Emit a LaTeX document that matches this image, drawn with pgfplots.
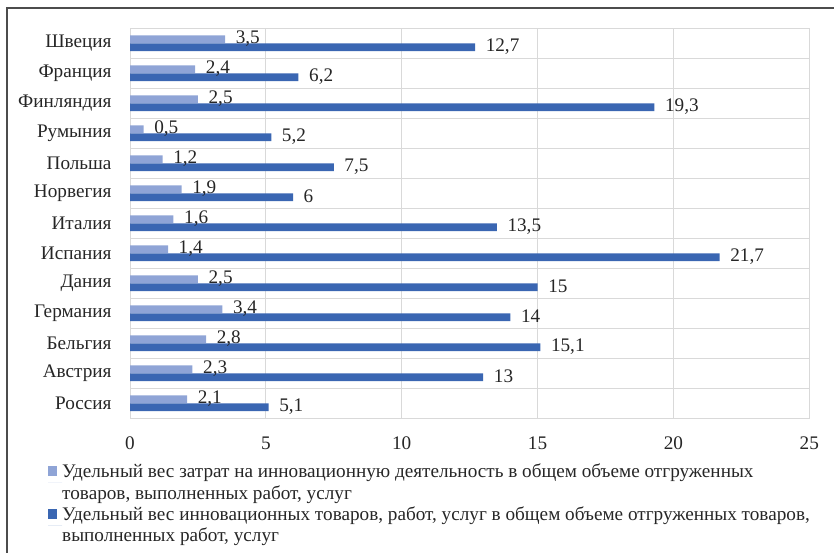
\documentclass[border=0pt]{standalone}
\usepackage{pgfplots}
\pgfplotsset{compat=1.18}
\usepackage{fontspec}
\setmainfont{Liberation Serif}
\definecolor{lightbar}{RGB}{143,164,214}
\definecolor{darkbar}{RGB}{58,102,178}
\definecolor{gridc}{RGB}{217,217,217}
\definecolor{txt}{RGB}{38,38,38}
\begin{document}
\fontsize{19.2pt}{21.7pt}\selectfont
\begin{tikzpicture}
\begin{axis}[
  at={(130pt,133.7pt)}, anchor=south west,
  scale only axis, width=679.3pt, height=390pt,
  xbar, bar width=7.8pt,
  xmin=0, xmax=25, ymin=-0.5, ymax=12.5,
  xtick={0,5,...,25},
  ytick={0,...,12},
  yticklabels={Россия,Австрия,Бельгия,Германия,Дания,Испания,Италия,Норвегия,Польша,Румыния,Финляндия,Франция,Швеция},
  minor ytick={-0.5,0.5,...,12.5},
  xmajorgrids, yminorgrids,
  major grid style={draw=gridc, line width=1pt},
  minor grid style={draw=gridc, line width=1pt},
  axis line style={draw=gridc, line width=1pt},
  major tick length=0pt, minor tick length=0pt,
  tick style={draw=none},
  /pgf/number format/assume math mode=true,
  /pgf/number format/use comma,
  xticklabel style={inner sep=0pt, yshift=-18.4pt, text=txt},
  yticklabel style={inner sep=0pt, xshift=-18.3pt, text=txt},
  nodes near coords,
  nodes near coords style={anchor=west, inner sep=0pt, xshift=10.5pt, yshift=0.8pt, text=txt},
  legend style={at={(axis description cs:-0.1207,-0.1159)}, anchor=north west,
    draw=none, fill=none, inner sep=0pt, row sep=4.5pt, column sep=0pt,
    nodes={inner sep=0pt, text=txt},
    cells={anchor=west, align=left}},
  legend image code/.code={\fill[#1] (0pt,6.5pt) rectangle (9pt,16.5pt); \path (0pt,0pt) -- (14pt,0pt);},
]
\addplot[fill=lightbar, draw=none, bar shift=4pt] coordinates {
  (2.1,0) (2.3,1) (2.8,2) (3.4,3) (2.5,4) (1.4,5) (1.6,6) (1.9,7) (1.2,8) (0.5,9) (2.5,10) (2.4,11) (3.5,12)};
\addlegendentry{Удельный вес затрат на инновационную деятельность в общем объеме отгруженных\\товаров, выполненных работ, услуг}
\addplot[fill=darkbar, draw=none, bar shift=-4pt] coordinates {
  (5.1,0) (13,1) (15.1,2) (14,3) (15,4) (21.7,5) (13.5,6) (6,7) (7.5,8) (5.2,9) (19.3,10) (6.2,11) (12.7,12)};
\addlegendentry{Удельный вес инновационных товаров, работ, услуг в общем объеме отгруженных товаров,\\выполненных работ, услуг}
\end{axis}
\draw[line width=1.6pt, black!70] (7pt,-5pt) -- (7pt,544pt) -- (840pt,544pt);
\pgfresetboundingbox
\useasboundingbox (0pt,0pt) rectangle (834pt,552pt);
\end{tikzpicture}
\end{document}
